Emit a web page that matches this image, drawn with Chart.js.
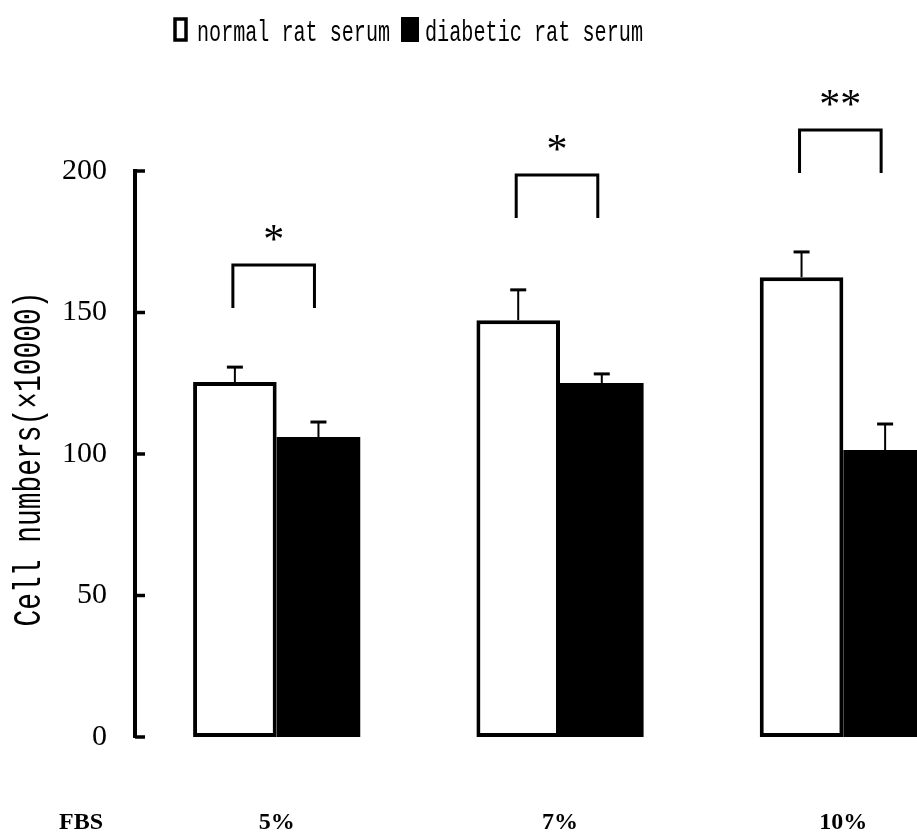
<!DOCTYPE html>
<html>
<head>
<meta charset="utf-8">
<title>Cell numbers by FBS concentration</title>
<script src="https://cdn.jsdelivr.net/npm/chart.js@4.4.1/dist/chart.umd.min.js"></script>
<style>
  html, body { margin: 0; padding: 0; background: #fff; overflow: hidden; }
  #wrap { position: relative; width: 1000px; height: 833px; }
</style>
</head>
<body>
<div id="wrap"><canvas id="cellChart"></canvas></div>
<script>
// ---- data ----
const FBS_LEVELS = ['5%', '7%', '10%'];
const SERIES_NAMES = ['normal rat serum', 'diabetic rat serum'];
const NORMAL_MEAN = [125.4, 147.3, 162.5];
const NORMAL_SE = [5.3, 10.7, 8.9];
const DIABETIC_MEAN = [106.0, 125.1, 101.4];
const DIABETIC_SE = [5.3, 3.2, 9.2];
const BRACKET_TOP = [166.8, 198.6, 214.5];
const BRACKET_FOOT = [151.6, 183.4, 199.3];
const SIG_MARKS = ['*', '*', '**'];
const Y_TICKS = [0, 50, 100, 150, 200];
const AXIS_NAME = 'Cell numbers(×10000)';
const GROUP_NAME = 'FBS';

const INK = '#000000';

// narrow monospaced text, like the typewriter face of the original
function narrowText(ctx, text, x, y, size, width, align) {
  ctx.font = size + 'px "Liberation Mono", monospace';
  const w = ctx.measureText(text).width;
  const sx = width / w;
  ctx.save();
  ctx.translate(x, y);
  ctx.scale(sx, 1);
  ctx.textAlign = align || 'left';
  ctx.fillText(text, 0, 0);
  ctx.restore();
}

const figureExtras = {
  id: 'figureExtras',
  afterDatasetsDraw(chart) {
    const { ctx, scales: { y } } = chart;
    ctx.save();
    ctx.strokeStyle = INK;
    ctx.fillStyle = INK;

    // upper error bars
    [NORMAL_SE, DIABETIC_SE].forEach((se, di) => {
      const meta = chart.getDatasetMeta(di);
      meta.data.forEach((bar, i) => {
        const mean = chart.data.datasets[di].data[i];
        const yTop = y.getPixelForValue(mean + se[i]);
        ctx.lineWidth = 2;
        ctx.beginPath();
        ctx.moveTo(bar.x, bar.y);
        ctx.lineTo(bar.x, yTop);
        ctx.stroke();
        ctx.lineWidth = 3;
        ctx.beginPath();
        ctx.moveTo(bar.x - 8, yTop);
        ctx.lineTo(bar.x + 8, yTop);
        ctx.stroke();
      });
    });

    // significance brackets
    const nBars = chart.getDatasetMeta(0).data;
    const dBars = chart.getDatasetMeta(1).data;
    ctx.lineWidth = 3;
    ctx.lineJoin = 'miter';
    FBS_LEVELS.forEach((_, i) => {
      const xl = nBars[i].x - 2;
      const xr = dBars[i].x - 4;
      const yt = y.getPixelForValue(BRACKET_TOP[i]);
      const yf = y.getPixelForValue(BRACKET_FOOT[i]);
      ctx.beginPath();
      ctx.moveTo(xl, yf);
      ctx.lineTo(xl, yt);
      ctx.lineTo(xr, yt);
      ctx.lineTo(xr, yf);
      ctx.stroke();
      ctx.font = '42px "Liberation Serif", serif';
      ctx.textAlign = 'center';
      ctx.textBaseline = 'alphabetic';
      ctx.fillText(SIG_MARKS[i], (xl + xr) / 2, yt - 12);
    });
    ctx.restore();
  },
  afterDraw(chart) {
    const { ctx, chartArea, scales: { y } } = chart;
    ctx.save();
    ctx.strokeStyle = INK;
    ctx.fillStyle = INK;

    // tick marks point into the plot
    ctx.lineWidth = 3.5;
    Y_TICKS.forEach(v => {
      const py = y.getPixelForValue(v);
      ctx.beginPath();
      ctx.moveTo(chartArea.left, py);
      ctx.lineTo(chartArea.left + 10, py);
      ctx.stroke();
    });

    // legend
    ctx.lineWidth = 3.5;
    ctx.fillStyle = '#fff';
    ctx.fillRect(175, 19, 11, 21);
    ctx.strokeRect(175, 19, 11, 21);
    ctx.fillStyle = INK;
    ctx.textBaseline = 'alphabetic';
    narrowText(ctx, SERIES_NAMES[0], 197, 41, 30, 193);
    ctx.fillRect(401, 17, 18, 25);
    narrowText(ctx, SERIES_NAMES[1], 425, 41, 30, 218);

    // y axis name, rotated
    ctx.save();
    ctx.translate(30, (chartArea.top + chartArea.bottom) / 2 + 5);
    ctx.rotate(-Math.PI / 2);
    ctx.textBaseline = 'middle';
    narrowText(ctx, AXIS_NAME, 0, 0, 38, 335, 'center');
    ctx.restore();

    // row label under the axis
    ctx.font = 'bold 24px "Liberation Serif", serif';
    ctx.textAlign = 'center';
    ctx.textBaseline = 'top';
    ctx.fillText(GROUP_NAME, 81, chartArea.bottom + 74);
    ctx.restore();
  }
};

new Chart(document.getElementById('cellChart'), {
  type: 'bar',
  data: {
    labels: FBS_LEVELS,
    datasets: [
      {
        label: SERIES_NAMES[0],
        data: NORMAL_MEAN,
        backgroundColor: '#ffffff',
        borderColor: INK,
        borderWidth: 4,
        borderSkipped: false,
        categoryPercentage: 0.59,
        barPercentage: 1.0
      },
      {
        label: SERIES_NAMES[1],
        data: DIABETIC_MEAN,
        backgroundColor: INK,
        borderColor: INK,
        borderWidth: 0,
        categoryPercentage: 0.59,
        barPercentage: 1.0
      }
    ]
  },
  options: {
    responsive: true,
    maintainAspectRatio: false,
    animation: false,
    layout: { padding: { top: 171, right: 15, bottom: 0, left: 0 } },
    plugins: {
      legend: { display: false },
      tooltip: { enabled: false }
    },
    scales: {
      x: {
        grid: { display: false },
        border: { display: false },
        ticks: {
          color: INK,
          padding: 63,
          font: { family: '"Liberation Serif", serif', size: 24, weight: 'bold' }
        },
        afterFit: s => { s.height = 96; }
      },
      y: {
        min: 0,
        max: 200,
        grid: { display: false, drawTicks: false },
        border: { display: true, color: INK, width: 4 },
        afterBuildTicks: s => { s.ticks = Y_TICKS.map(v => ({ value: v })); },
        ticks: {
          color: INK,
          padding: 28,
          font: { family: '"Liberation Serif", serif', size: 30 }
        },
        afterFit: s => { s.width = 135; }
      }
    }
  },
  plugins: [figureExtras]
});
</script>
</body>
</html>
